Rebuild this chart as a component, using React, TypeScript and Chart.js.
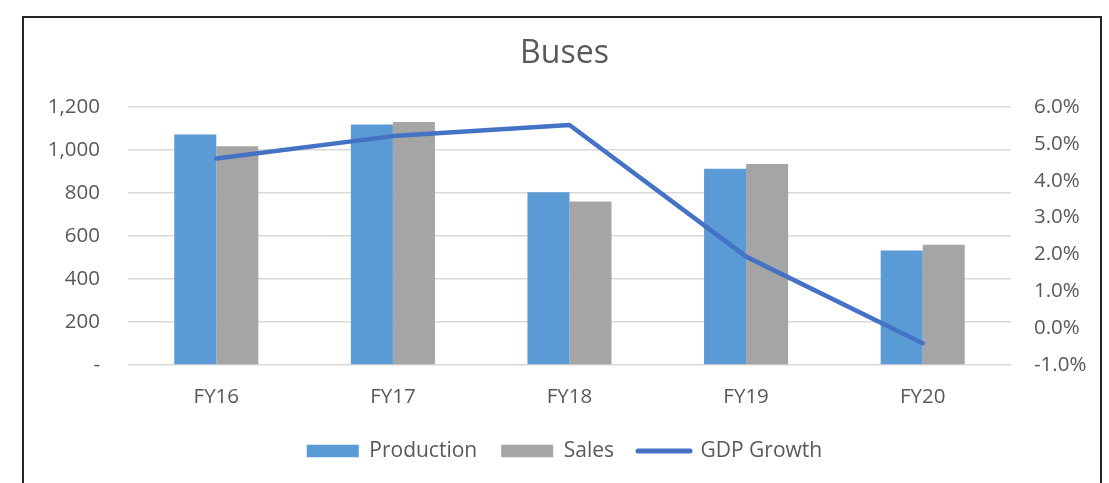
import { useEffect, useRef } from "react";
import { Chart, registerables } from "chart.js";

Chart.register(...registerables);

const categories = ["FY16", "FY17", "FY18", "FY19", "FY20"];
const production = [1072, 1119, 803, 913, 532];
const sales = [1018, 1130, 761, 935, 559];
const gdpGrowth = [4.6, 5.21, 5.51, 1.94, -0.41];

const leftMin = 0;
const leftMax = 1200;
const leftStep = 200;
const rightMin = -1;
const rightMax = 6;
const rightStep = 1;

const FONT = "'Open Sans', sans-serif";
const TEXT = "#595959";

export default function App() {
  const ref = useRef<HTMLCanvasElement | null>(null);

  useEffect(() => {
    if (!ref.current) return;
    const chart = new Chart(ref.current, {
      type: "bar",
      data: {
        labels: categories,
        datasets: [
          {
            type: "bar",
            label: "Production",
            data: production,
            backgroundColor: "#5B9BD5",
            yAxisID: "y",
            order: 1,
            categoryPercentage: 0.476,
            barPercentage: 1,
          },
          {
            type: "bar",
            label: "Sales",
            data: sales,
            backgroundColor: "#A5A5A5",
            yAxisID: "y",
            order: 1,
            categoryPercentage: 0.476,
            barPercentage: 1,
          },
          {
            type: "line",
            label: "GDP Growth",
            data: gdpGrowth,
            borderColor: "#4472C4",
            backgroundColor: "#4472C4",
            borderWidth: 4.5,
            borderCapStyle: "round",
            borderJoinStyle: "round",
            pointRadius: 0,
            pointHoverRadius: 0,
            tension: 0,
            yAxisID: "y1",
            order: 0,
          },
        ],
      },
      options: {
        animation: false,
        responsive: false,
        maintainAspectRatio: false,
        layout: { padding: { left: 20, right: 0, top: 0, bottom: 11.5 } },
        font: { family: FONT },
        plugins: {
          title: {
            display: true,
            text: "Buses",
            color: TEXT,
            font: { family: FONT, size: 32, weight: "normal", lineHeight: 1.2 },
            padding: { top: 35, bottom: 33.6 },
          },
          legend: {
            position: "bottom",
            labels: {
              color: TEXT,
              font: { family: FONT, size: 21 },
              usePointStyle: true,
              pointStyleWidth: 52,
              boxHeight: 12.5,
              padding: 24,
              generateLabels: (c: any) =>
                c.data.datasets.map((ds: any, i: number) => ({
                  text: ds.label,
                  fillStyle: ds.backgroundColor,
                  strokeStyle: ds.type === "line" ? ds.borderColor : ds.backgroundColor,
                  lineWidth: ds.type === "line" ? 5 : 0,
                  lineCap: "round",
                  pointStyle: ds.type === "line" ? "line" : "rect",
                  hidden: false,
                  datasetIndex: i,
                  fontColor: TEXT,
                })),
            },
          },
          tooltip: { enabled: false },
        },
        scales: {
          x: {
            grid: { display: false, drawTicks: false },
            border: { display: false },
            ticks: { color: TEXT, font: { family: FONT, size: 20.5 }, padding: 20 },
            afterFit: (s: any) => {
              s.height = 51.5;
            },
          },
          y: {
            position: "left",
            min: leftMin,
            max: leftMax,
            ticks: {
              stepSize: leftStep,
              color: TEXT,
              font: { family: FONT, size: 20.5 },
              padding: 28,
              callback: (v: any) => (Number(v) === 0 ? "-" : Number(v).toLocaleString("en-US")),
            },
            grid: { color: "#D9D9D9", lineWidth: 1.4, drawTicks: false },
            border: { display: false },
            afterFit: (s: any) => {
              s.width = 108;
            },
          },
          y1: {
            position: "right",
            min: rightMin,
            max: rightMax,
            ticks: {
              stepSize: rightStep,
              color: TEXT,
              font: { family: FONT, size: 20.5 },
              padding: 23,
              callback: (v: any) => Number(v).toFixed(1) + "%",
            },
            grid: { display: false, drawTicks: false },
            border: { display: false },
            afterFit: (s: any) => {
              s.width = 98;
            },
          },
        },
      },
    } as any);
    return () => chart.destroy();
  }, []);

  return (
    <div
      style={{
        position: "absolute",
        left: 0,
        top: 0,
        width: 1109,
        height: 483,
        overflow: "hidden",
        background: "#fff",
      }}
    >
      <div
        style={{
          position: "absolute",
          left: 22,
          top: 16,
          width: 1080,
          height: 600,
          border: "2px solid #262626",
          boxSizing: "border-box",
        }}
      />
      <canvas
        ref={ref}
        width={1109}
        height={483}
        style={{ position: "absolute", left: 0, top: 0, width: 1109, height: 483 }}
      />
    </div>
  );
}
